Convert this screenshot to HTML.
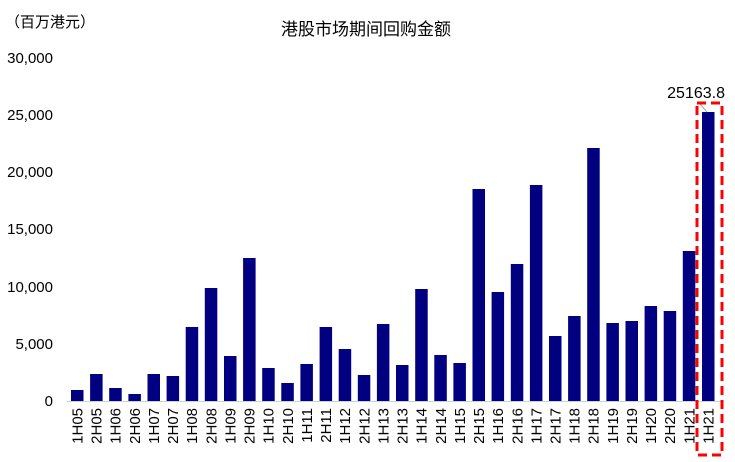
<!DOCTYPE html>
<html><head><meta charset="utf-8"><style>
html,body{margin:0;padding:0;background:#fff;}
svg{display:block;font-family:"Liberation Sans","Noto Sans CJK SC",sans-serif;}
</style></head><body>
<svg width="735" height="462" viewBox="0 0 735 462" xmlns="http://www.w3.org/2000/svg">
<text x="5" y="27" font-size="15" fill="#000">（百万港元）</text>
<text x="366" y="35" font-size="17" text-anchor="middle" fill="#000">港股市场期间回购金额</text>
<g font-size="15" text-anchor="end" fill="#000">
<text x="53" y="406">0</text>
<text x="53" y="349">5,000</text>
<text x="53" y="292">10,000</text>
<text x="53" y="234">15,000</text>
<text x="53" y="177">20,000</text>
<text x="53" y="120">25,000</text>
<text x="53" y="63">30,000</text>
</g>
<line x1="67" y1="401.5" x2="722" y2="401.5" stroke="#d0d0d0" stroke-width="1"/>
<g id="bars" fill="#000080"></g>
<g id="labels" font-size="15" fill="#000"></g>
<text x="725" y="98" font-size="16" text-anchor="end" fill="#000">25163.8</text>
<line x1="700" y1="104" x2="707" y2="112" stroke="#aaa" stroke-width="1"/>
<rect x="697" y="103" width="25" height="352" fill="none" stroke="#ff0000" stroke-width="3" stroke-dasharray="9,5"/>
<script>
var tops=[390,374,388,394,374,376,327,288,356,258,368,383,364,327,349,375,324,365,289,355,363,189,292,264,185,336,316,148,323,321,306,311,251,112];
var names=[];
for(var y=5;y<=20;y++){var s=(y<10?"0":"")+y;names.push("1H"+s);names.push("2H"+s);}
names.push("1H21");names.push("1H21");
var b=document.getElementById("bars"),l=document.getElementById("labels"),ns="http://www.w3.org/2000/svg";
for(var i=0;i<34;i++){
 var cx=77+i*19.12;
 var r=document.createElementNS(ns,"rect");
 r.setAttribute("x",(cx-6).toFixed(1));r.setAttribute("y",tops[i]);
 r.setAttribute("width","12.5");r.setAttribute("height",401-tops[i]);
 b.appendChild(r);
 var t=document.createElementNS(ns,"text");
 t.setAttribute("transform","translate("+(cx+5.5).toFixed(1)+",408) rotate(-90)");
 t.setAttribute("text-anchor","end");t.textContent=names[i];
 l.appendChild(t);
}
</script>
</svg>
</body></html>
